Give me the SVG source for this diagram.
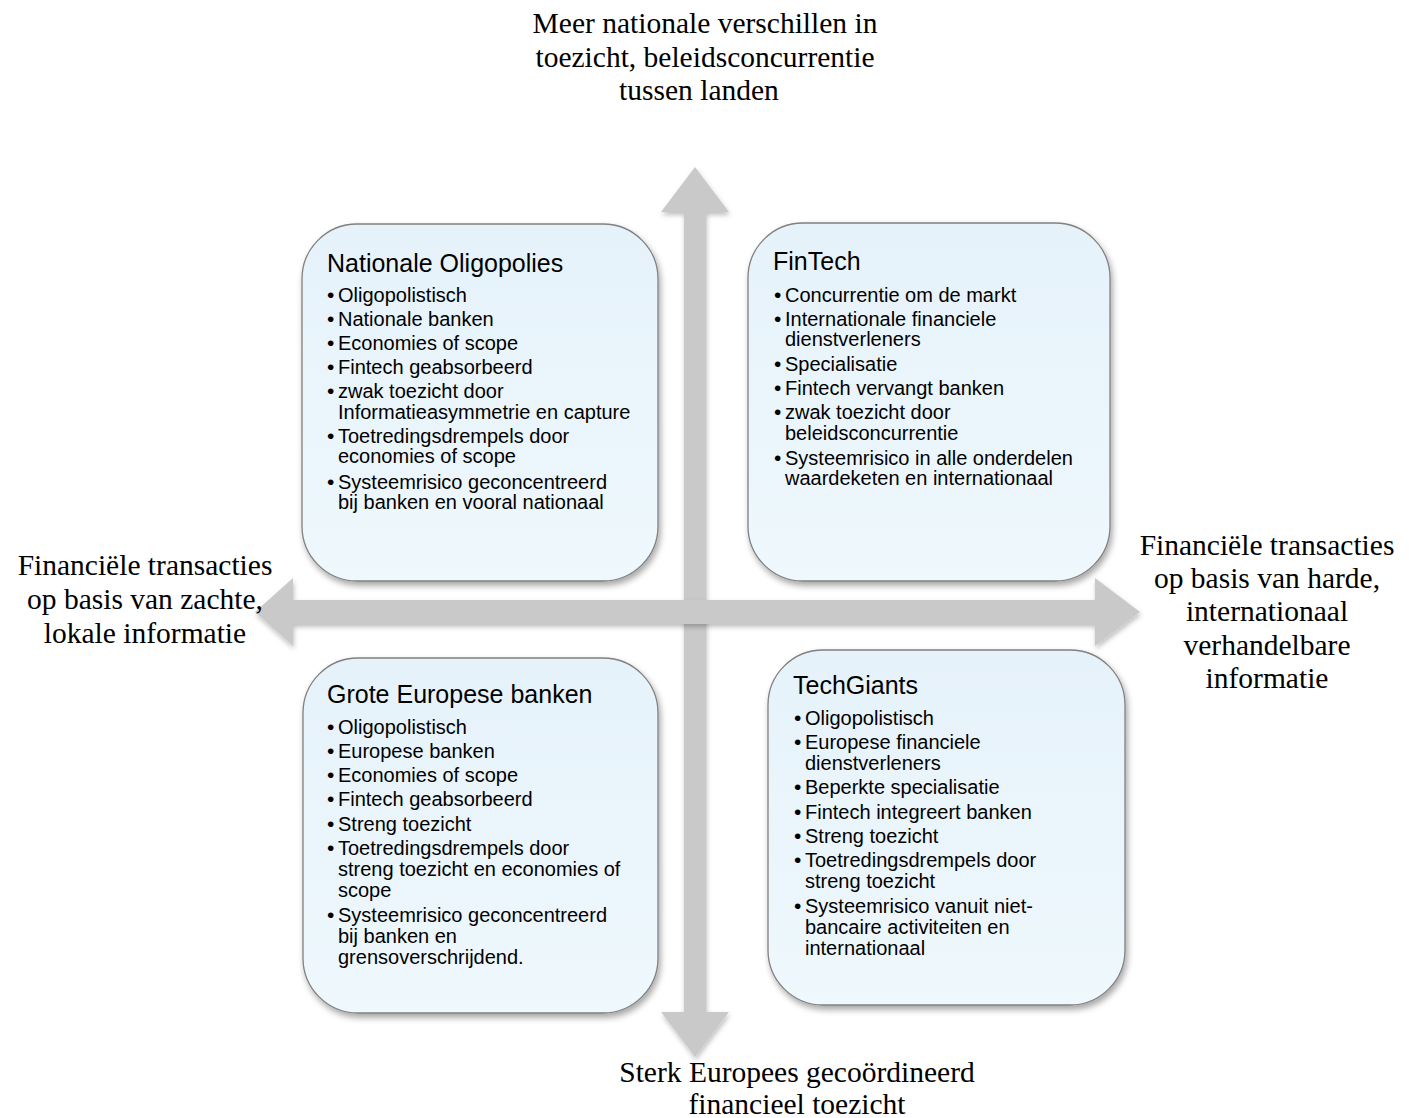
<svg xmlns="http://www.w3.org/2000/svg" width="1418" height="1118" viewBox="0 0 1418 1118">
<defs>
<linearGradient id="boxfill" x1="0" y1="0" x2="0" y2="1">
<stop offset="0" stop-color="#e6f2fa"/>
<stop offset="1" stop-color="#eef8fd"/>
</linearGradient>
<filter id="shadow" x="-10%" y="-10%" width="125%" height="125%">
<feDropShadow dx="2" dy="4" stdDeviation="3" flood-color="#000" flood-opacity="0.35"/>
</filter>
<filter id="ashadow" x="-10%" y="-10%" width="125%" height="125%">
<feDropShadow dx="1" dy="3" stdDeviation="2.5" flood-color="#000" flood-opacity="0.25"/>
</filter>
</defs>
<style>
.box{fill:url(#boxfill);stroke:#808080;stroke-width:1.3;filter:url(#shadow)}
.arrow{fill:#c9c9c9;filter:url(#ashadow)}
.title{font-family:"Liberation Sans",Arial,sans-serif;font-size:25px;fill:#000}
.item{font-family:"Liberation Sans",Arial,sans-serif;font-size:20px;fill:#000}
.b{font-size:21px}
.lbl{font-family:"Liberation Serif","Times New Roman",serif;font-size:29.5px;fill:#000;text-anchor:middle}
</style>
<rect width="1418" height="1118" fill="#ffffff"/>

<g id="connectors">
<polygon class="arrow" points="695,167 729,212 706,212 706,1012 729,1012 695,1057 661,1012 684,1012 684,212 661,212"/>
<polygon class="arrow" points="255,612 293,578 293,600 1095,600 1095,578 1140,612 1095,646 1095,624 293,624 293,646"/>
</g>

<g id="label-top">
<text class="lbl" x="705" y="33">Meer nationale verschillen in</text>
<text class="lbl" x="705" y="67">toezicht, beleidsconcurrentie</text>
<text class="lbl" x="699" y="100">tussen landen</text>
</g>
<g id="label-left">
<text class="lbl" x="145" y="575">Financiële transacties</text>
<text class="lbl" x="145" y="609">op basis van zachte,</text>
<text class="lbl" x="145" y="643">lokale informatie</text>
</g>
<g id="label-right">
<text class="lbl" x="1267" y="555">Financiële transacties</text>
<text class="lbl" x="1267" y="588">op basis van harde,</text>
<text class="lbl" x="1267" y="621">internationaal</text>
<text class="lbl" x="1267" y="655">verhandelbare</text>
<text class="lbl" x="1267" y="688">informatie</text>
</g>
<g id="label-bottom">
<text class="lbl" x="797" y="1082">Sterk Europees gecoördineerd</text>
<text class="lbl" x="797" y="1114">financieel toezicht</text>
</g>

<g id="node-nationale-oligopolies">
<rect class="box" x="302" y="224" width="356" height="357" rx="55" ry="55"/>
<text class="title" x="327" y="272">Nationale Oligopolies</text>
<g class="item">
<text class="b" x="327" y="302">•</text><text x="338" y="302">Oligopolistisch</text>
<text class="b" x="327" y="326">•</text><text x="338" y="326">Nationale banken</text>
<text class="b" x="327" y="350">•</text><text x="338" y="350">Economies of scope</text>
<text class="b" x="327" y="374">•</text><text x="338" y="374">Fintech geabsorbeerd</text>
<text class="b" x="327" y="398">•</text><text x="338" y="398">zwak toezicht door</text>
<text x="338" y="419">Informatieasymmetrie en capture</text>
<text class="b" x="327" y="443">•</text><text x="338" y="443">Toetredingsdrempels door</text>
<text x="338" y="463">economies of scope</text>
<text class="b" x="327" y="489">•</text><text x="338" y="489">Systeemrisico geconcentreerd</text>
<text x="338" y="509">bij banken en vooral nationaal</text>
</g>
</g>

<g id="node-fintech">
<rect class="box" x="748" y="223" width="362" height="358" rx="55" ry="55"/>
<text class="title" x="773" y="270">FinTech</text>
<g class="item">
<text class="b" x="774" y="302">•</text><text x="785" y="302">Concurrentie om de markt</text>
<text class="b" x="774" y="326">•</text><text x="785" y="326">Internationale financiele</text>
<text x="785" y="346">dienstverleners</text>
<text class="b" x="774" y="371">•</text><text x="785" y="371">Specialisatie</text>
<text class="b" x="774" y="395">•</text><text x="785" y="395">Fintech vervangt banken</text>
<text class="b" x="774" y="419">•</text><text x="785" y="419">zwak toezicht door</text>
<text x="785" y="440">beleidsconcurrentie</text>
<text class="b" x="774" y="465">•</text><text x="785" y="465">Systeemrisico in alle onderdelen</text>
<text x="785" y="485">waardeketen en internationaal</text>
</g>
</g>

<g id="node-grote-europese-banken">
<rect class="box" x="303" y="658" width="355" height="355" rx="55" ry="55"/>
<text class="title" x="327" y="703">Grote Europese banken</text>
<g class="item">
<text class="b" x="327" y="734">•</text><text x="338" y="734">Oligopolistisch</text>
<text class="b" x="327" y="758">•</text><text x="338" y="758">Europese banken</text>
<text class="b" x="327" y="782">•</text><text x="338" y="782">Economies of scope</text>
<text class="b" x="327" y="806">•</text><text x="338" y="806">Fintech geabsorbeerd</text>
<text class="b" x="327" y="831">•</text><text x="338" y="831">Streng toezicht</text>
<text class="b" x="327" y="855">•</text><text x="338" y="855">Toetredingsdrempels door</text>
<text x="338" y="876">streng toezicht en economies of</text>
<text x="338" y="897">scope</text>
<text class="b" x="327" y="922">•</text><text x="338" y="922">Systeemrisico geconcentreerd</text>
<text x="338" y="943">bij banken en</text>
<text x="338" y="964">grensoverschrijdend.</text>
</g>
</g>

<g id="node-techgiants">
<rect class="box" x="768" y="650" width="357" height="355" rx="55" ry="55"/>
<text class="title" x="793" y="694">TechGiants</text>
<g class="item">
<text class="b" x="794" y="725">•</text><text x="805" y="725">Oligopolistisch</text>
<text class="b" x="794" y="749">•</text><text x="805" y="749">Europese financiele</text>
<text x="805" y="770">dienstverleners</text>
<text class="b" x="794" y="794">•</text><text x="805" y="794">Beperkte specialisatie</text>
<text class="b" x="794" y="819">•</text><text x="805" y="819">Fintech integreert banken</text>
<text class="b" x="794" y="843">•</text><text x="805" y="843">Streng toezicht</text>
<text class="b" x="794" y="867">•</text><text x="805" y="867">Toetredingsdrempels door</text>
<text x="805" y="888">streng toezicht</text>
<text class="b" x="794" y="913">•</text><text x="805" y="913">Systeemrisico vanuit niet-</text>
<text x="805" y="934">bancaire activiteiten en</text>
<text x="805" y="955">internationaal</text>
</g>
</g>
</svg>
